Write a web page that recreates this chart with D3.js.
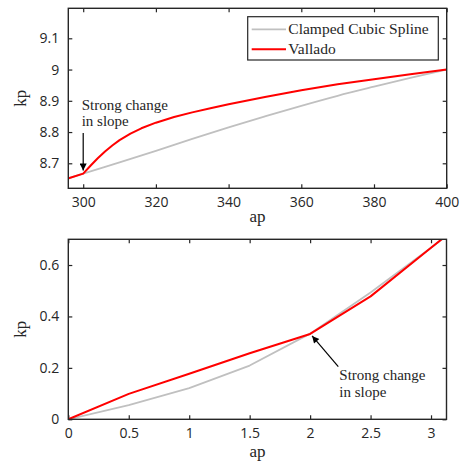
<!DOCTYPE html>
<html><head><meta charset="utf-8">
<script src="https://cdn.jsdelivr.net/npm/d3@7"></script>
<style>
body{margin:0;background:#fff}
text{fill:#262626}
.tick-label{font-family:"Open Sans",sans-serif;font-size:14px}
.serif{font-family:"Liberation Serif",serif}
</style>
</head><body>
<svg id="chart" width="462" height="466"></svg>
<script>
// Upper panel: high-ap end of the ap -> kp conversion
const splineApHigh = [296, 300, 310, 320, 330, 340, 350, 360, 370, 380, 390, 400];
const splineKpHigh = [8.652, 8.667, 8.703, 8.740, 8.778, 8.815, 8.850, 8.884, 8.916, 8.945, 8.973, 9.0];
const valladoApHigh = [296, 300, 302, 304, 306, 308, 310, 313, 316, 320, 325, 330, 335, 340, 350, 360, 370, 380, 390, 400];
const valladoKpHigh = [8.652, 8.667, 8.692, 8.716, 8.738, 8.757, 8.774, 8.795, 8.812, 8.830, 8.848, 8.863, 8.876, 8.889, 8.912, 8.934, 8.953, 8.969, 8.985, 9.0];
const xTicksHigh = [300, 320, 340, 360, 380, 400];
const yTicksHigh = [8.7, 8.8, 8.9, 9.0, 9.1];

// Lower panel: low-ap end
const splineApLow = [0, 0.5, 1, 1.5, 2, 2.5, 3, 3.125];
const splineKpLow = [0, 0.055, 0.121, 0.209, 0.333, 0.493, 0.667, 0.712];
const valladoApLow = [0, 0.5, 1, 1.5, 2, 2.5, 3, 3.125];
const valladoKpLow = [0, 0.099, 0.177, 0.257, 0.332, 0.478, 0.667, 0.714];
const xTicksLow = [0, 0.5, 1, 1.5, 2, 2.5, 3];
const yTicksLow = [0, 0.2, 0.4, 0.6];

const legendLabels = ["Clamped Cubic Spline", "Vallado"];
const seriesColors = ["#c0c0c0", "#ff0000"];

const svg = d3.select("#chart");
const frameColor = "#262626";
const tickLen = 4;

function panel(id, box, xDomain, yDomain, xTicks, yTicks, series) {
  const x = d3.scaleLinear().domain(xDomain).range([box.left, box.right]);
  const y = d3.scaleLinear().domain(yDomain).range([box.bottom, box.top]);
  const g = svg.append("g");

  g.append("clipPath").attr("id", id)
    .append("rect").attr("x", box.left).attr("y", box.top)
    .attr("width", box.right - box.left).attr("height", box.bottom - box.top);

  const fmt = d => String(+d.toFixed(2));

  // axes with inward ticks on all four sides
  g.append("g").attr("transform", `translate(0,${box.bottom})`)
    .call(d3.axisBottom(x).tickValues(xTicks).tickSize(-tickLen).tickPadding(9).tickFormat(fmt));
  g.append("g").attr("transform", `translate(0,${box.top})`)
    .call(d3.axisTop(x).tickValues(xTicks).tickSize(-tickLen).tickFormat(""));
  g.append("g").attr("transform", `translate(${box.left},0)`)
    .call(d3.axisLeft(y).tickValues(yTicks).tickSize(-tickLen).tickPadding(9).tickFormat(fmt));
  g.append("g").attr("transform", `translate(${box.right},0)`)
    .call(d3.axisRight(y).tickValues(yTicks).tickSize(-tickLen).tickFormat(""));
  g.selectAll(".domain").remove();
  g.selectAll(".tick line").attr("stroke", frameColor).attr("stroke-width", 1.2);
  g.selectAll(".tick text").attr("class", "tick-label").attr("fill", frameColor);

  const lines = g.append("g").attr("clip-path", `url(#${id})`);
  series.forEach(s => {
    const pts = s.xs.map((v, i) => [v, s.ys[i]]);
    lines.append("path").datum(pts)
      .attr("fill", "none").attr("stroke", s.color).attr("stroke-width", s.width)
      .attr("stroke-linejoin", "round")
      .attr("d", d3.line().x(d => x(d[0])).y(d => y(d[1])).curve(s.curve));
  });

  g.append("rect").attr("x", box.left).attr("y", box.top)
    .attr("width", box.right - box.left).attr("height", box.bottom - box.top)
    .attr("fill", "none").attr("stroke", frameColor).attr("stroke-width", 1.4);

  return {x, y, g};
}

const upperPanel = panel("clipHigh", {left: 68.3, right: 446.7, top: 8.3, bottom: 188.3},
  [295.9, 400], [8.62, 9.196], xTicksHigh, yTicksHigh, [
    {xs: splineApHigh, ys: splineKpHigh, color: seriesColors[0], width: 1.8, curve: d3.curveMonotoneX},
    {xs: valladoApHigh, ys: valladoKpHigh, color: seriesColors[1], width: 2, curve: d3.curveLinear}
  ]);

const lowerPanel = panel("clipLow", {left: 68.3, right: 446.5, top: 239.3, bottom: 419.3},
  [0, 3.128], [0, 0.7], xTicksLow, yTicksLow, [
    {xs: splineApLow, ys: splineKpLow, color: seriesColors[0], width: 1.8, curve: d3.curveLinear},
    {xs: valladoApLow, ys: valladoKpLow, color: seriesColors[1], width: 2, curve: d3.curveLinear}
  ]);

// axis titles
function axisTitles(cx, xTitleY, cy) {
  svg.append("text").attr("class", "serif").attr("x", cx).attr("y", xTitleY)
    .attr("text-anchor", "middle").attr("font-size", 17).text("ap");
  svg.append("text").attr("class", "serif")
    .attr("transform", `translate(26,${cy}) rotate(-90)`)
    .attr("text-anchor", "middle").attr("font-size", 17).text("kp");
}
axisTitles(257.5, 222, 98.3);
axisTitles(257.5, 457, 329.3);

// legend
const lg = svg.append("g");
lg.append("rect").attr("x", 247.7).attr("y", 16.7).attr("width", 190.6).attr("height", 43.3)
  .attr("fill", "#fff").attr("stroke", frameColor).attr("stroke-width", 1.2);
legendLabels.forEach((label, i) => {
  const ly = 29.3 + i * 20;
  lg.append("line").attr("x1", 251.7).attr("x2", 286).attr("y1", ly).attr("y2", ly)
    .attr("stroke", seriesColors[i]).attr("stroke-width", i ? 2 : 1.8);
  lg.append("text").attr("class", "serif").attr("x", 288.3).attr("y", ly + 5)
    .attr("font-size", 15.5).text(label);
});

// annotations
svg.append("defs").append("marker").attr("id", "head")
  .attr("viewBox", "0 0 10 10").attr("refX", 10).attr("refY", 5)
  .attr("markerWidth", 9).attr("markerHeight", 7).attr("markerUnits", "userSpaceOnUse")
  .attr("orient", "auto")
  .append("path").attr("d", "M0,0 L10,5 L0,10 Z").attr("fill", "#000");

function note(tx, ty, from, to) {
  const t = svg.append("text").attr("class", "serif").attr("font-size", 15);
  t.append("tspan").attr("x", tx).attr("y", ty).text("Strong change");
  t.append("tspan").attr("x", tx).attr("y", ty + 16.5).text("in slope");
  svg.append("line").attr("x1", from[0]).attr("y1", from[1]).attr("x2", to[0]).attr("y2", to[1])
    .attr("stroke", "#000").attr("stroke-width", 1.2).attr("marker-end", "url(#head)");
}
note(81.7, 109.5, [upperPanel.x(300), 133], [upperPanel.x(300), upperPanel.y(8.667) - 3]);
note(339.3, 380, [338.3, 366.7], [lowerPanel.x(2) + 2, lowerPanel.y(0.332) + 2]);
</script>
</body></html>
